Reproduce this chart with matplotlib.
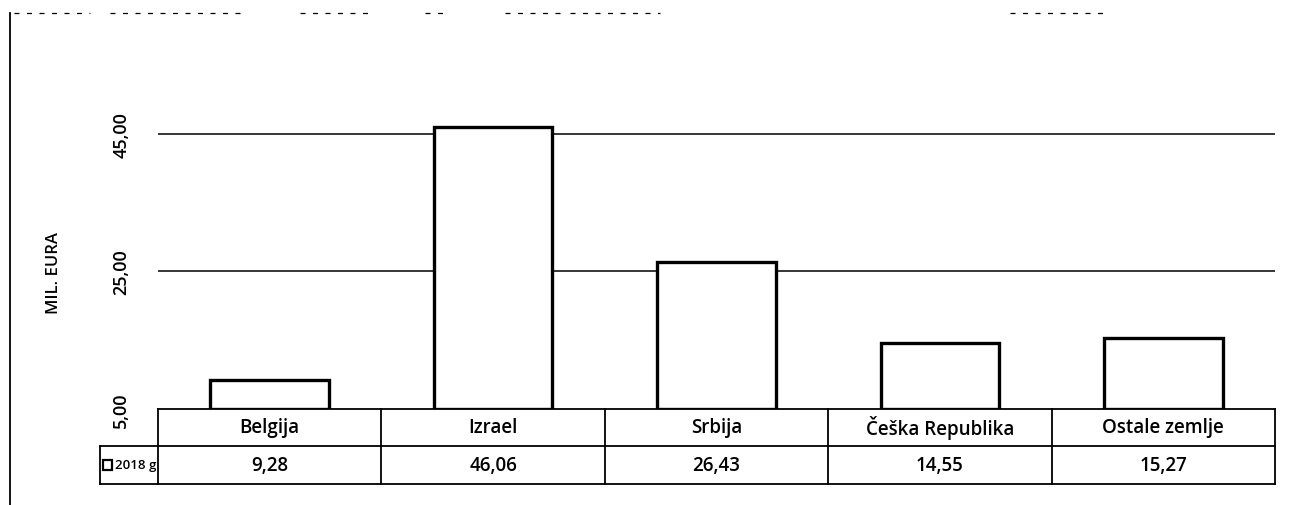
import matplotlib
matplotlib.use("Agg")
import matplotlib.pyplot as plt
from matplotlib.lines import Line2D
from matplotlib.patches import Rectangle

plt.rcParams['font.family'] = ['Open Sans', 'DejaVu Sans']
plt.rcParams['font.weight'] = 'semibold'

countries = ['Belgija', 'Izrael', 'Srbija', 'Češka Republika', 'Ostale zemlje']
values_2018 = [9.28, 46.06, 26.43, 14.55, 15.27]
value_labels = ['9,28', '46,06', '26,43', '14,55', '15,27']
series_name = '2018 g'
yticks = [5, 25, 45]
ytick_labels = ['5,00', '25,00', '45,00']

W, H = 1309, 506
fig = plt.figure(figsize=(W / 100, H / 100), dpi=100)
ax = fig.add_axes([158 / W, 1 - 410 / H, (1275 - 158) / W, (410 - 100.6) / H])

x = range(len(countries))
ax.bar(x, [v - 5 for v in values_2018], bottom=5, width=0.53,
       color='white', edgecolor='black', linewidth=2.4, zorder=3)
ax.set_xlim(-0.5, len(countries) - 0.5)
ax.set_ylim(5, 50)
ax.set_yticks(yticks)
ax.set_yticklabels(ytick_labels, rotation=90, va='center', fontsize=13,
                   fontweight='semibold')
ax.tick_params(axis='y', length=0, pad=20)
ax.set_xticks([])
for s in ax.spines.values():
    s.set_visible(False)
for t in yticks[1:]:
    ax.axhline(t, color='black', linewidth=1.1, zorder=1)


def fx(px):
    return px / W


def fy(py):
    return 1 - py / H


fig.text(fx(54), fy(273), 'MIL. EURA', rotation=90, ha='center', va='center',
         fontsize=12)

# data table under the plot
col_edges = [158 + i * (1275 - 158) / len(countries) for i in range(len(countries) + 1)]
y0, y1, y2 = 410, 447, 485
lw = 1.3
for yy in (y0, y1, y2):
    left = 158 if yy == y0 else 100
    fig.add_artist(Line2D([fx(left), fx(1275)], [fy(yy), fy(yy)], color='black', lw=lw))
for i, xe in enumerate(col_edges):
    fig.add_artist(Line2D([fx(xe), fx(xe)], [fy(y0), fy(y2)], color='black', lw=lw))
fig.add_artist(Line2D([fx(100), fx(100)], [fy(y1), fy(y2)], color='black', lw=lw))
for i, name in enumerate(countries):
    cx = (col_edges[i] + col_edges[i + 1]) / 2
    fig.text(fx(cx), fy((y0 + y1) / 2), name, ha='center', va='center', fontsize=13.5)
    fig.text(fx(cx), fy((y1 + y2) / 2), value_labels[i], ha='center', va='center', fontsize=13.5)
fig.add_artist(Rectangle((fx(103), fy(471)), 9 / W, 10 / H, fill=False,
                         edgecolor='black', lw=1.6))
fig.text(fx(115), fy((y1 + y2) / 2), series_name, ha='left', va='center', fontsize=9.5)

# scan border remnants
fig.add_artist(Line2D([fx(10), fx(10)], [fy(14), fy(506)], color='black', lw=1.3))
for a, b in [(14, 90), (110, 240), (300, 375), (425, 445), (505, 560), (570, 660), (1010, 1110)]:
    fig.add_artist(Line2D([fx(a), fx(b)], [fy(14), fy(14)], color='black', lw=0.9,
                          linestyle=(0, (4, 6))))

fig.savefig('out.png', dpi=100)
